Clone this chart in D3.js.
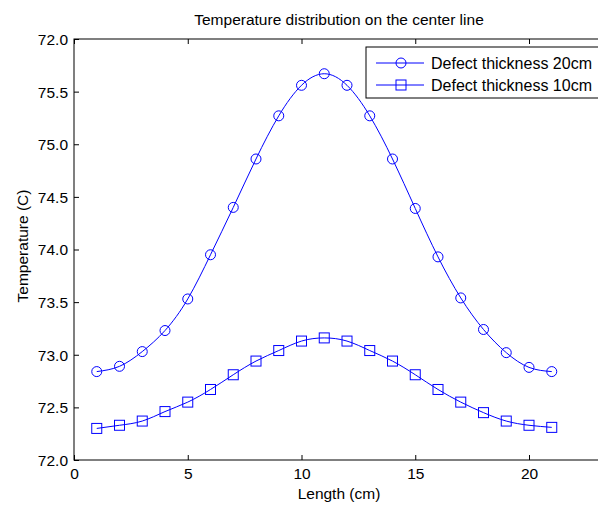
<!DOCTYPE html>
<html><head><meta charset="utf-8">
<script src="https://cdn.jsdelivr.net/npm/d3@7"></script>
<style>body{margin:0;background:#fff}svg{display:block}text{font-family:"Liberation Sans",Arial,sans-serif}</style>
</head><body><svg id="c" width="598" height="506"></svg>
<script>
const lengths = [1,2,3,4,5,6,7,8,9,10,11,12,13,14,15,16,17,18,19,20,21];
const thick20 = [72.84,72.89,73.03,73.23,73.53,73.95,74.40,74.86,75.27,75.56,75.67,75.56,75.27,74.86,74.39,73.93,73.54,73.24,73.02,72.88,72.84];
const thick10 = [72.30,72.33,72.37,72.46,72.55,72.67,72.81,72.94,73.04,73.13,73.16,73.13,73.04,72.94,72.81,72.67,72.55,72.45,72.37,72.33,72.31];
const xTicks = [0,5,10,15,20];
const yTicks = [72,72.5,73,73.5,74,74.5,75,75.5,76];
const yTickLabels = ["72.0","72.5","73.0","73.5","74.0","74.5","75.0","75.5","72.0"];
const seriesNames = ["Defect thickness 20cm","Defect thickness 10cm"];

const svg = d3.select("#c");
const L=74, T=39, B=460, R=74+25*22.75;
const x = d3.scaleLinear().domain([0,25]).range([L,R]);
const y = d3.scaleLinear().domain([72,76]).range([B,T]);
const blue = "#0000ff";
const FS = 15.5;

svg.append("rect").attr("x",L).attr("y",T).attr("width",R-L).attr("height",B-T)
  .attr("fill","none").attr("stroke","#000").attr("stroke-width",1);

const ax = svg.append("g").attr("transform",`translate(0,${B})`)
  .call(d3.axisBottom(x).tickValues(xTicks).tickSize(-5).tickPadding(8).tickFormat(d3.format("d")));
const axT = svg.append("g").attr("transform",`translate(0,${T})`)
  .call(d3.axisTop(x).tickValues(xTicks).tickSize(-5).tickFormat(""));
const ay = svg.append("g").attr("transform",`translate(${L},0)`)
  .call(d3.axisLeft(y).tickValues(yTicks).tickSize(-5).tickPadding(6).tickFormat((d,i)=>yTickLabels[i]));
[ax,axT,ay].forEach(g=>{g.select(".domain").remove();g.selectAll("line").attr("stroke","#000");
  g.selectAll("text").attr("font-size",FS).attr("fill","#000").attr("font-family","Liberation Sans, Arial, sans-serif");});
ay.selectAll("text").attr("dy","0.35em");

const line = d3.line().x((d,i)=>x(lengths[i])).y(d=>y(d)).curve(d3.curveNatural);
[thick20,thick10].forEach((s,k)=>{
  svg.append("path").attr("d",line(s)).attr("fill","none").attr("stroke",blue).attr("stroke-width",1);
  const g = svg.append("g");
  s.forEach((v,i)=>{
    if(k===0) g.append("circle").attr("cx",x(lengths[i])).attr("cy",y(v)).attr("r",5).attr("fill","none").attr("stroke",blue);
    else g.append("rect").attr("x",x(lengths[i])-5).attr("y",y(v)-5).attr("width",10).attr("height",10).attr("fill","none").attr("stroke",blue);
  });
});

svg.append("text").attr("x",339).attr("y",25).attr("text-anchor","middle").attr("font-size",FS).text("Temperature distribution on the center line");
svg.append("text").attr("x",339).attr("y",499).attr("text-anchor","middle").attr("font-size",FS).text("Length (cm)");
svg.append("text").attr("transform","translate(28,246) rotate(-90)").attr("text-anchor","middle").attr("font-size",FS).text("Temperature (C)");

const lg = svg.append("g");
lg.append("rect").attr("x",366).attr("y",47).attr("width",250).attr("height",51).attr("fill","#fff").attr("stroke","#000");
seriesNames.forEach((n,i)=>{
  const yy = 63+i*22;
  lg.append("line").attr("x1",376).attr("x2",424).attr("y1",yy).attr("y2",yy).attr("stroke",blue);
  if(i===0) lg.append("circle").attr("cx",401).attr("cy",yy).attr("r",5).attr("fill","none").attr("stroke",blue);
  else lg.append("rect").attr("x",396).attr("y",yy-5).attr("width",10).attr("height",10).attr("fill","none").attr("stroke",blue);
  lg.append("text").attr("x",431).attr("y",yy).attr("dy","0.35em").attr("font-size",16).text(n);
});
</script></body></html>
